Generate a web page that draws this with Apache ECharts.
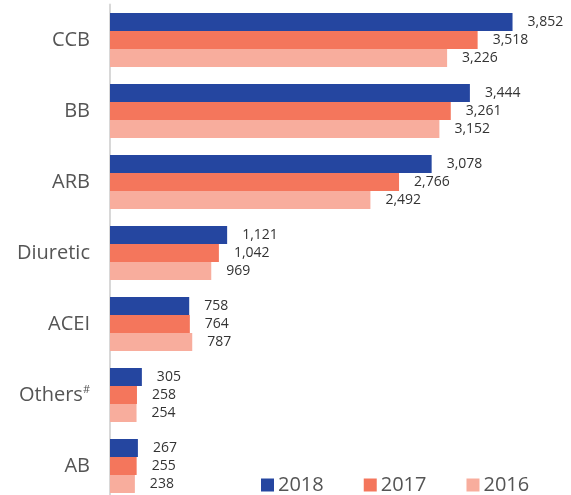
<!DOCTYPE html>
<html>
<head>
<meta charset="utf-8">
<script src="https://cdn.jsdelivr.net/npm/echarts@6/dist/echarts.min.js"></script>
<style>
  html,body{margin:0;padding:0;background:#fff;}
  #main{width:571px;height:495px;}
</style>
</head>
<body>
<div id="main"></div>
<script>
// categories, top to bottom
const categories=['CCB','BB','ARB','Diuretic','ACEI','Others#','AB'];
const years=['2018','2017','2016'];
const v2018=[3852,3444,3078,1121,758,305,267];
const v2017=[3518,3261,2766,1042,764,258,255];
const v2016=[3226,3152,2492,969,787,254,238];
const colors=['#2546a0','#f4765c','#f8ad9d'];
const font='Open Sans';

const chart=echarts.init(document.getElementById('main'),null,{renderer:'canvas'});

function makeSeries(name,data,color){
  return {
    name:name,
    type:'bar',
    data:data,
    barGap:'0%',
    barCategoryGap:'24%',
    itemStyle:{color:color},
    label:{
      show:true,
      position:'right',
      distance:15,
      fontSize:14,
      color:'#333',
      fontFamily:font,
      formatter:p=>p.value.toLocaleString('en-US')
    }
  };
}

chart.setOption({
  animation:false,
  grid:{left:110,top:4.5,height:497,width:418,containLabel:false,outerBoundsMode:'none'},
  legend:{
    data:years,
    left:261,
    top:475,
    padding:0,
    itemWidth:13,
    itemHeight:13,
    itemGap:40,
    icon:'rect',
    textStyle:{fontSize:20,color:'#555',fontFamily:font,padding:[0,0,0,-1]}
  },
  xAxis:{
    type:'value',
    min:0,
    max:4000,
    show:false
  },
  yAxis:{
    type:'category',
    inverse:true,
    data:categories,
    axisLine:{show:true,lineStyle:{color:'#d8d8d8',width:2}},
    axisTick:{show:false},
    axisLabel:{
      fontSize:20,
      color:'#555',
      margin:20,
      fontFamily:font,
      formatter:v=>v.endsWith('#')?v.slice(0,-1)+'{sup|#}':v,
      rich:{sup:{fontSize:11,color:'#555',fontFamily:font,padding:[0,0,10,0]}}
    }
  },
  series:[
    makeSeries(years[0],v2018,colors[0]),
    makeSeries(years[1],v2017,colors[1]),
    makeSeries(years[2],v2016,colors[2])
  ]
});
</script>
</body>
</html>
